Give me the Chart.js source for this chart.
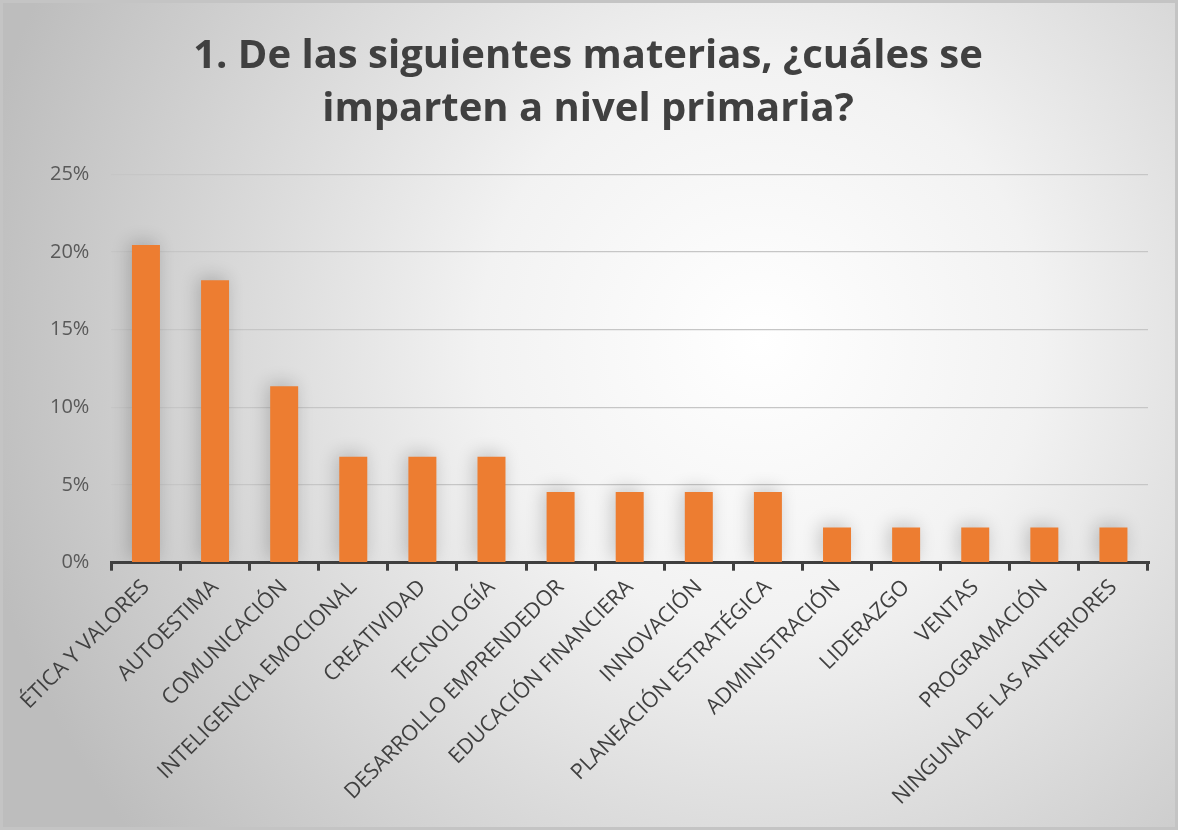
<!DOCTYPE html>
<html lang="es">
  <head>
    <meta charset="UTF-8" />
    <title>Materias nivel primaria</title>
    <script src="https://cdn.jsdelivr.net/npm/chart.js"></script>
    <style>
      html, body { margin: 0; padding: 0; }
      #wrap { width: 1178px; height: 830px; position: relative; }
    </style>
  </head>
  <body>
    <div id="wrap"><canvas id="chart"></canvas></div>

    <script>
      // data (percent of answers)
      const categories = [
        "ÉTICA Y VALORES", "AUTOESTIMA", "COMUNICACIÓN", "INTELIGENCIA EMOCIONAL",
        "CREATIVIDAD", "TECNOLOGÍA", "DESARROLLO EMPRENDEDOR", "EDUCACIÓN FINANCIERA",
        "INNOVACIÓN", "PLANEACIÓN ESTRATÉGICA", "ADMINISTRACIÓN", "LIDERAZGO",
        "VENTAS", "PROGRAMACIÓN", "NINGUNA DE LAS ANTERIORES"
      ];
      const percentages = [20.45, 18.18, 11.36, 6.82, 6.82, 6.82, 4.55, 4.55, 4.55, 4.55, 2.27, 2.27, 2.27, 2.27, 2.27];
      const yTicks = [0, 5, 10, 15, 20, 25];
      const titleLines = ["1. De las siguientes materias, ¿cuáles se", "imparten a nivel primaria?"];

      // gray radial background + thin frame
      const backgroundPlugin = {
        id: "bg",
        beforeDraw(chart) {
          const { ctx, width, height } = chart;
          ctx.save();
          const g = ctx.createRadialGradient(760, 340, 0, 760, 340, 800);
          g.addColorStop(0, "#ffffff");
          g.addColorStop(0.35, "#f2f2f2");
          g.addColorStop(1, "#bdbdbd");
          ctx.fillStyle = g;
          ctx.fillRect(0, 0, width, height);
          ctx.strokeStyle = "#c4c4c4";
          ctx.lineWidth = 3;
          ctx.strokeRect(1.5, 1.5, width - 3, height - 3);
          ctx.restore();
        }
      };

      // soft shadow behind the bars
      const shadowPlugin = {
        id: "barShadow",
        beforeDatasetsDraw(chart) {
          const ctx = chart.ctx;
          ctx.save();
          ctx.shadowColor = "rgba(0,0,0,0.2)";
          ctx.shadowBlur = 18;
          ctx.shadowOffsetX = -3;
          ctx.shadowOffsetY = -3;
        },
        afterDatasetsDraw(chart) {
          chart.ctx.restore();
        }
      };

      new Chart(document.getElementById("chart"), {
        type: "bar",
        data: {
          labels: categories,
          datasets: [{
            data: percentages,
            backgroundColor: "#ED7D31",
            borderWidth: 0,
            categoryPercentage: 1,
            barPercentage: 0.405
          }]
        },
        options: {
          responsive: true,
          maintainAspectRatio: false,
          animation: false,
          layout: { padding: { left: 28, right: 30, top: 12, bottom: 16 } },
          plugins: {
            legend: { display: false },
            tooltip: { enabled: false },
            title: {
              display: true,
              text: titleLines,
              color: "#404040",
              font: { family: "Open Sans", size: 40, weight: "bold", lineHeight: 1.33 },
              padding: { top: 18, bottom: 38 }
            }
          },
          scales: {
            y: {
              min: 0,
              max: 25,
              afterBuildTicks(axis) {
                axis.ticks = yTicks.map(v => ({ value: v }));
              },
              border: { display: false },
              grid: { color: "#c6c6c6", lineWidth: 1.3, drawTicks: false },
              ticks: {
                color: "#595959",
                font: { family: "Open Sans", size: 20 },
                padding: 22,
                callback: v => v + "%"
              }
            },
            x: {
              border: { color: "#404040", width: 3 },
              grid: {
                offset: true,
                drawOnChartArea: false,
                color: "#404040",
                lineWidth: 3,
                tickLength: 8
              },
              ticks: {
                color: "#404040",
                font: { family: "Open Sans", size: 21.5 },
                minRotation: 45,
                maxRotation: 45,
                padding: 4
              }
            }
          }
        },
        plugins: [backgroundPlugin, shadowPlugin]
      });
    </script>
  </body>
</html>
